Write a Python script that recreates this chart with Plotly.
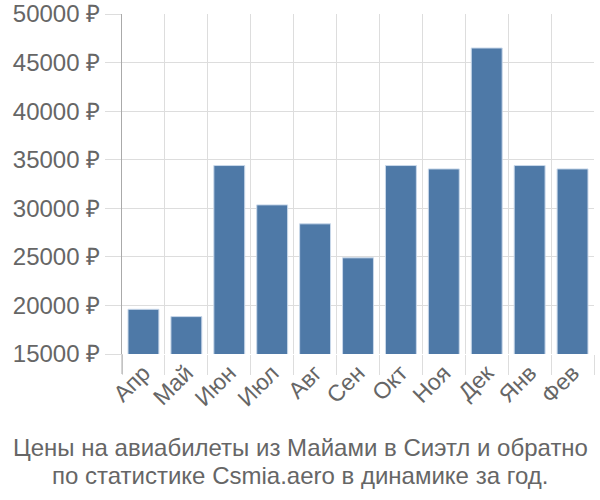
import plotly.graph_objects as go

months = ["Апр", "Май", "Июн", "Июл", "Авг", "Сен", "Окт", "Ноя", "Дек", "Янв", "Фев"]
prices = [19600, 18850, 34400, 30350, 28400, 24900, 34400, 34050, 46500, 34400, 34050]
y_ticks = [15000, 20000, 25000, 30000, 35000, 40000, 45000, 50000]
y_labels = [f"{v} ₽" for v in y_ticks]
title_lines = ["Цены на авиабилеты из Майами в Сиэтл и обратно",
               "по статистике Csmia.aero в динамике за год."]

FONT = "Liberation Sans, Arial, sans-serif"
GRID = "#dddddd"
TXT = "#666666"
PLOT_H = 340

fig = go.Figure(go.Bar(
    x=months, y=prices,
    base=0,
    marker=dict(color="#4e79a7", line=dict(color="#c9d8ea", width=1)),
    width=0.72,
))

annotations = []
for i, line in enumerate(title_lines):
    center_px = 447 + 28 * i  # from top of page
    annotations.append(dict(
        text=line, xref="paper", yref="paper",
        x=(300 - 122) / 472, y=-(center_px - 354) / PLOT_H,
        xanchor="center", yanchor="middle", showarrow=False,
        font=dict(size=24, color=TXT, family=FONT),
    ))

fig.update_layout(
    width=600, height=500,
    margin=dict(l=122, r=6, t=14, b=146, autoexpand=False),
    paper_bgcolor="white", plot_bgcolor="white",
    showlegend=False,
    font=dict(family=FONT, color=TXT),
    xaxis=dict(
        type="category", tickson="boundaries", automargin=False,
        showgrid=True, gridcolor=GRID, gridwidth=1,
        ticks="outside", ticklen=20, tickcolor=GRID, tickwidth=1,
        tickangle=-45, tickfont=dict(size=23, color=TXT, family=FONT),
        showline=False, zeroline=False,
    ),
    yaxis=dict(
        range=[15000, 50000], automargin=False,
        tickvals=y_ticks, ticktext=y_labels,
        showgrid=True, gridcolor=GRID, gridwidth=1,
        ticks="outside", ticklen=16, tickcolor=GRID, tickwidth=1,
        tickfont=dict(size=24, color=TXT, family=FONT),
        showline=True, linecolor="#aaaaaa", linewidth=1,
        zeroline=False,
    ),
    annotations=annotations,
    shapes=[dict(type="line", xref="paper", yref="paper",
                 x0=0, x1=0, y0=0, y1=-20 / PLOT_H,
                 line=dict(color="#aaaaaa", width=1))],
)

fig.write_html("out.html")
